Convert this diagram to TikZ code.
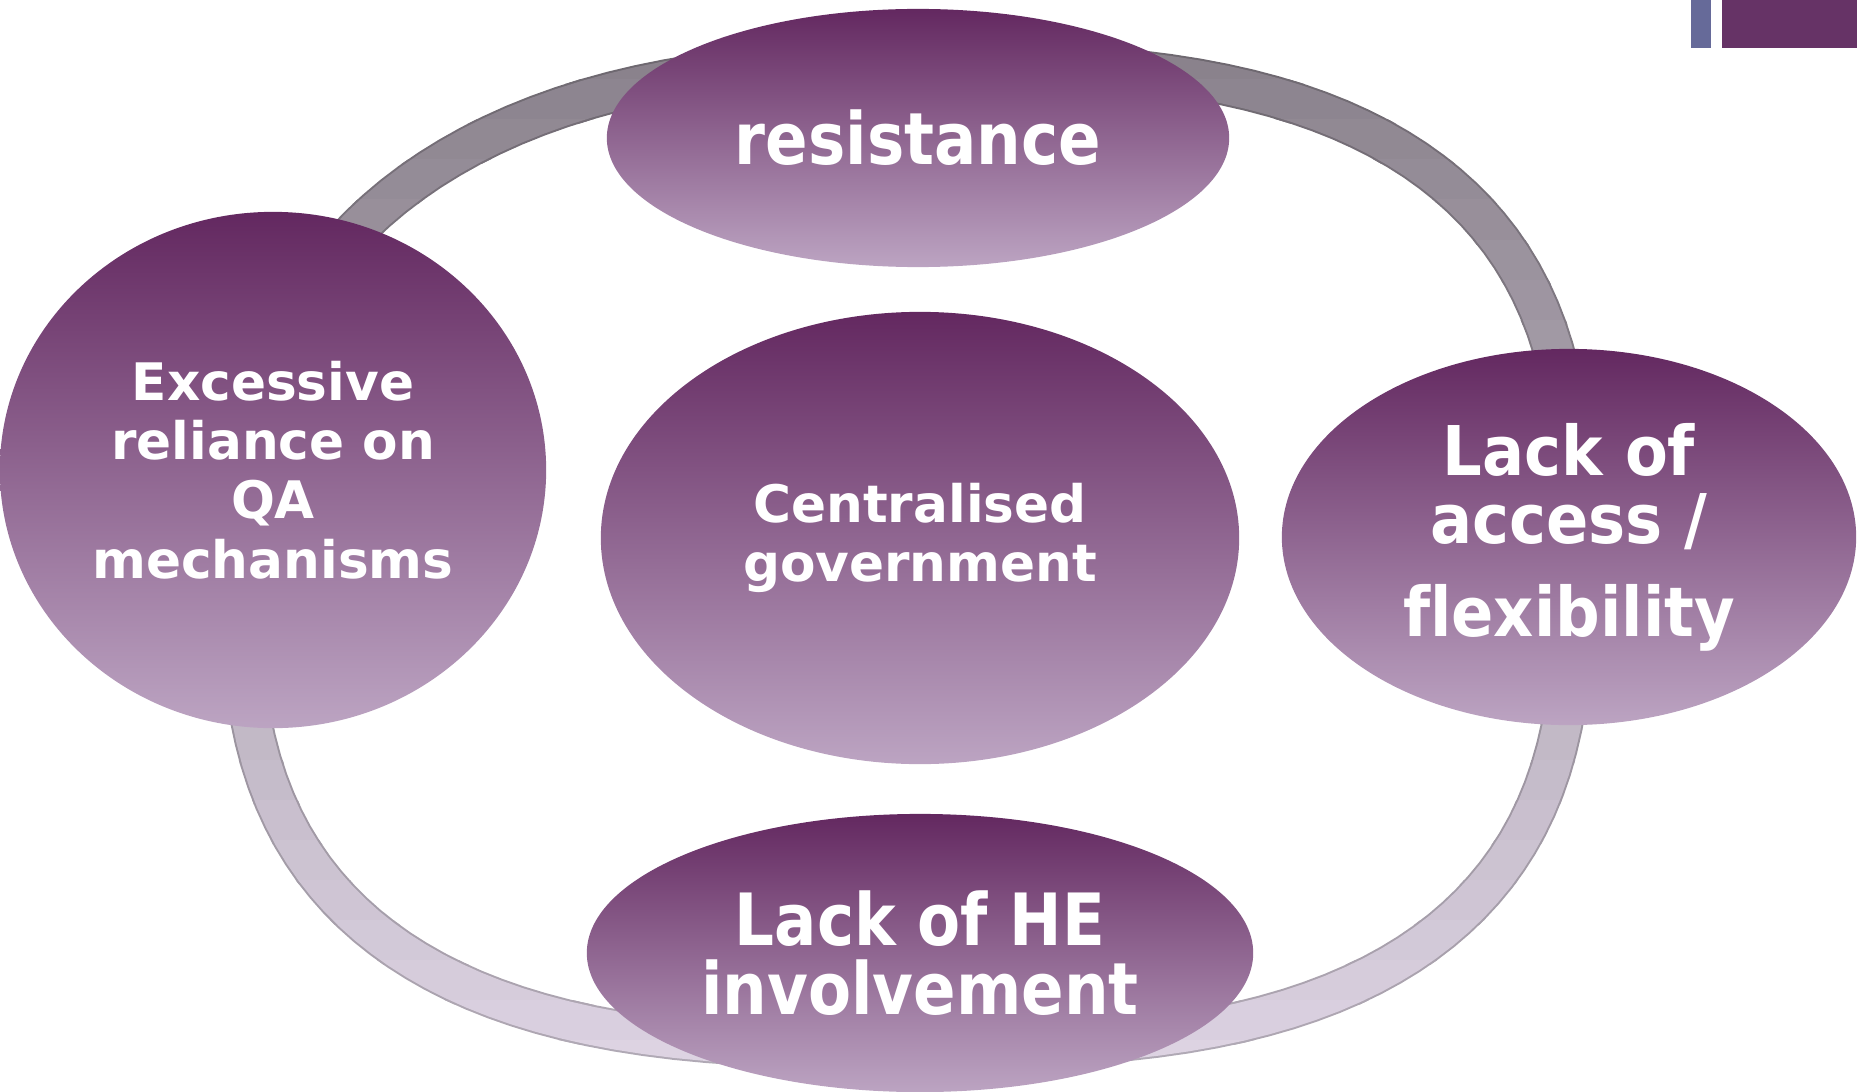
\documentclass[tikz,border=0pt]{standalone}
\usepackage{fontspec}
\setmainfont[Ligatures=NoCommon]{DejaVu Sans}
\newfontfamily\narrowfont[FakeStretch=0.87,Ligatures=NoCommon]{DejaVu Sans}
\newfontfamily\midfont[FakeStretch=0.91,Ligatures=NoCommon]{DejaVu Sans}
\usetikzlibrary{shapes.geometric}

\definecolor{bubbletop}{RGB}{99,40,96}
\definecolor{bubblebot}{RGB}{188,164,194}
\definecolor{ringtop}{RGB}{138,130,140}
\definecolor{ringbot}{RGB}{224,214,230}
\definecolor{tabblue}{RGB}{102,106,153}
\definecolor{tabpurple}{RGB}{102,51,102}

% centre line of the grey ring (a squarish super-ellipse, rounder at the top left)
\newcommand{\ringcurve}{plot[domain=0.5:358, samples=144]
  ({907+667*cos(\x)*pow(abs(cos(\x)),-0.29+0.123*((\x>180)*(\x<270)))},
   {555+493*sin(\x)*pow(abs(sin(\x)),-0.29+0.123*((\x>180)*(\x<270)))}) -- cycle}

\begin{document}
\begin{tikzpicture}[x=0.01cm,y=-0.01cm,
    bubble/.style={ellipse, inner sep=0pt, top color=bubbletop,
      bottom color=bubblebot, text=white, align=center},
    bigtext/.style={font=\narrowfont\bfseries\fontsize{20.5}{19.6}\selectfont},
    midtext/.style={font=\midfont\bfseries\fontsize{19.5}{19.4}\selectfont},
    smalltext/.style={font=\bfseries\fontsize{14.7}{16.9}\selectfont}]
    \useasboundingbox (0,0) rectangle (1867,1091);

    % ring, shaded in horizontal bands
    \foreach \k in {0,...,26}{
        \pgfmathtruncatemacro\mixpc{100-3.8*\k}
        \begin{scope}
            \clip (0,{40+40*\k}) rectangle (1867,{84+40*\k});
            \draw[line width=4.2mm, line join=round, draw=ringtop!\mixpc!ringbot!80!black] \ringcurve;
            \draw[line width=3.8mm, line join=round, draw=ringtop!\mixpc!ringbot] \ringcurve;
        \end{scope}
    }

    % corner tabs
    \fill[tabblue] (1691,0) rectangle (1711,48);
    \fill[tabpurple] (1722,0) rectangle (1857,48);

    \node[bubble, bigtext, minimum width=6.22cm, minimum height=2.58cm] (resist) at (918,138) {resistance};
    \node[bubble, smalltext, minimum width=5.46cm, minimum height=5.16cm] (qa) at (273,470) {Excessive\\reliance on\\QA\\mechanisms};
    \node[bubble, smalltext, minimum width=6.38cm, minimum height=4.52cm] (gov) at (920,538) {Centralised\\government};
    \node[bubble, midtext, minimum width=5.74cm, minimum height=3.76cm] (access) at (1569,537) {Lack of\\access /\\[7pt]flexibility};
    \node[bubble, bigtext, minimum width=6.66cm, minimum height=2.78cm] (he) at (920,953) {Lack of HE\\involvement};
\end{tikzpicture}
\end{document}
